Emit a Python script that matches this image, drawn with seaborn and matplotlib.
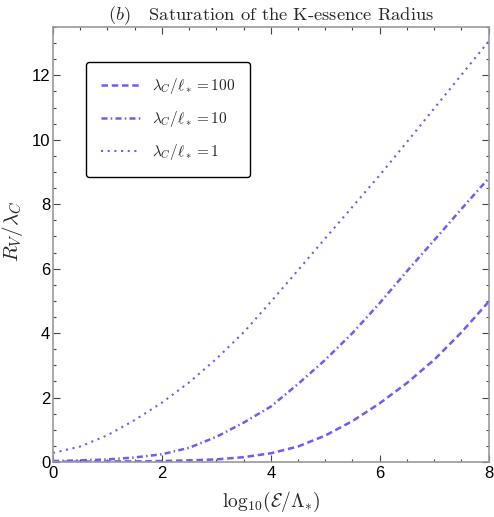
import numpy as np
import pandas as pd
import matplotlib
matplotlib.use('Agg')
import matplotlib.pyplot as plt
from matplotlib.ticker import MultipleLocator
import seaborn as sns

# valores (passo 0.5 em log10(E/Lambda*))
log_e = [0.0, 0.5, 1.0, 1.5, 2.0, 2.5, 3.0, 3.5, 4.0,
         4.5, 5.0, 5.5, 6.0, 6.5, 7.0, 7.5, 8.0]
rv_100 = [0.01, 0.01, 0.02, 0.02, 0.03, 0.05, 0.08, 0.15, 0.27,
          0.48, 0.82, 1.27, 1.82, 2.45, 3.17, 4.02, 4.97]
rv_10 = [0.03, 0.05, 0.08, 0.14, 0.24, 0.44, 0.78, 1.22, 1.72,
         2.42, 3.17, 4.00, 4.93, 5.92, 6.88, 7.85, 8.80]
rv_1 = [0.28, 0.48, 0.83, 1.30, 1.84, 2.47, 3.20, 4.02, 4.97,
        5.95, 6.94, 7.92, 8.90, 9.93, 10.97, 12.01, 13.05]
labels = [r'$\lambda_C/\ell_* = 100$', r'$\lambda_C/\ell_* = 10$', r'$\lambda_C/\ell_* = 1$']

cor = '#6c5cf8'

sns.set_style('ticks')
plt.rcParams['font.family'] = ['Liberation Sans', 'DejaVu Sans']
plt.rcParams['mathtext.fontset'] = 'cm'

fig = plt.figure(figsize=(4.94, 5.17), dpi=100)
ax = fig.add_axes([0.1073, 0.1064, 0.8817, 0.8414])

series = [(rv_100, (0, (2.6, 1.5)), 1.8),
          (rv_10, (0, (2.4, 1.3, 0.6, 1.3)), 1.8),
          (rv_1, (0, (1.0, 2.2)), 1.5)]
for (vals, ls, lw), lab in zip(series, labels):
    sns.lineplot(x=log_e, y=vals, ax=ax, color=cor, lw=lw, label=lab)
    ax.lines[-1].set_linestyle(ls)

ax.set_xlim(0, 8)
ax.set_ylim(0, 13.5)
ax.xaxis.set_major_locator(MultipleLocator(2))
ax.xaxis.set_minor_locator(MultipleLocator(0.5))
ax.yaxis.set_major_locator(MultipleLocator(2))
ax.yaxis.set_minor_locator(MultipleLocator(0.5))
ax.tick_params(which='both', direction='in', top=True, right=True, colors='#444444',
               labelcolor='black', labelsize=12, width=0.8)
ax.tick_params(which='major', length=5)
ax.tick_params(which='minor', length=2.5)
ax.tick_params(axis='y', pad=2)
ax.tick_params(axis='x', pad=3)
for s in ax.spines.values():
    s.set_color('#999999')
    s.set_linewidth(1.2)

ax.set_xlabel(r'$\mathrm{log}_{10}(\mathcal{E}/\Lambda_{*})$', fontsize=14, labelpad=6)
ax.set_ylabel(r'$R_V/\lambda_C$', fontsize=15)
ax.yaxis.set_label_coords(-0.064, 0.53)
ax.set_title(r'$(b)$   Saturation of the K-essence Radius', fontsize=13.3,
             family='cmr10', pad=5)

leg = ax.legend(loc='upper left', bbox_to_anchor=(0.0758, 0.92), fontsize=11,
                frameon=True, fancybox=True, handlelength=2.6, handletextpad=0.8,
                labelspacing=0.85, borderpad=0.95, borderaxespad=0)
leg.get_frame().set_edgecolor('black')
leg.get_frame().set_linewidth(1.0)
leg.get_frame().set_alpha(1)

fig.savefig('out.png', dpi=100)
